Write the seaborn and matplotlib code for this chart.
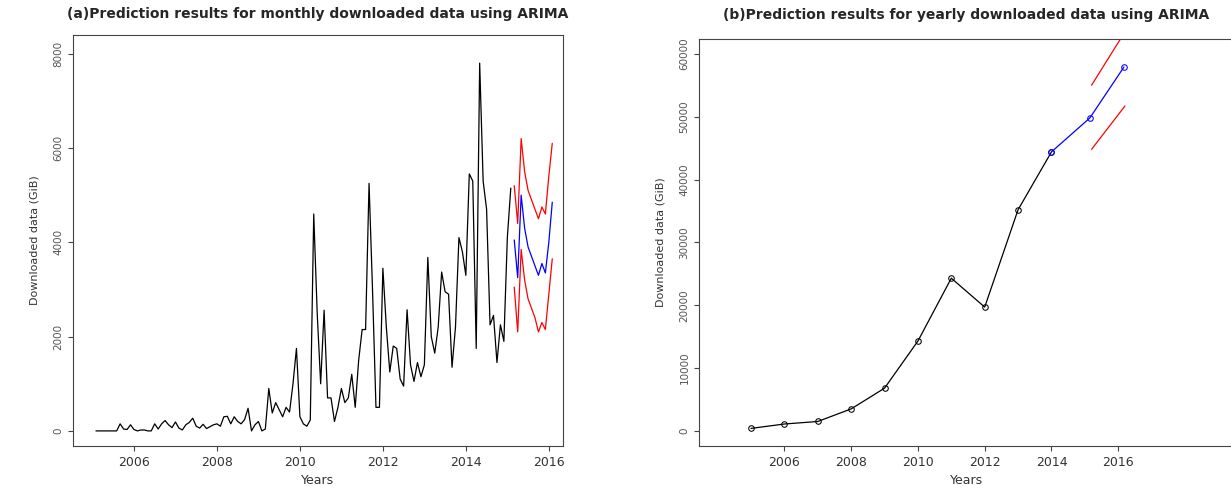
import numpy as np
import pandas as pd
import matplotlib
matplotlib.use("Agg")
import matplotlib.pyplot as plt
import seaborn as sns

# Datos mensuales (GiB)
mensual = [0, 0, 0, 0, 0, 0, 0, 150, 40, 30, 130, 30, 0, 20,
           20, 0, 0, 150, 40, 150, 220, 130, 70, 190, 60, 20,
           130, 180, 270, 100, 60, 140, 50, 90, 130, 150, 100, 300, 310,
           150, 300, 200, 150, 240, 480, 0, 130, 200, 0, 40, 900,
           380, 600, 450, 300, 500, 400, 1000, 1750, 300, 150, 100, 230, 4600, 2500, 1000,
           2560, 700, 700, 200, 500, 900, 600, 700, 1200, 500, 1500, 2150,
           2150, 5250, 3000, 500, 500, 3450, 2200, 1250, 1800, 1750, 1100, 950,
           2570, 1400, 1050, 1450, 1150, 1400, 3680, 2000, 1650, 2200, 3370, 2950,
           2900, 1350, 2200, 4100, 3800, 3300, 5450, 5300, 1750, 7800, 5300, 4700,
           2250, 2450, 1450, 2250, 1900, 4100, 5150]
pred_mensual = [4050, 3250, 5000, 4300, 3900, 3700, 3500, 3300, 3550, 3350, 4000, 4850]
sup_mensual = [5200, 4400, 6200, 5500, 5100, 4900, 4700, 4500, 4750, 4600, 5400, 6100]
inf_mensual = [3050, 2100, 3850, 3200, 2800, 2600, 2400, 2100, 2300, 2150, 2900, 3650]

# Datos anuales
anios = [2005, 2006, 2007, 2008, 2009, 2010, 2011, 2012, 2013, 2014]
anual = [400, 1100, 1500, 3500, 6800, 14300, 24300, 19700, 35200, 44400]
anios_pred = [2014, 2015.15, 2016.17]
pred_anual = [44400, 49800, 57900]
anios_int = [2015.2, 2016.2]
sup_anual = [55000, 63500]
inf_anual = [44800, 51700]

t_m = 2005.083 + np.arange(len(mensual)) / 12
t_p = t_m[-1] + (np.arange(len(pred_mensual)) + 1) / 12

sns.set_style("ticks")
plt.rcParams["font.family"] = ["DejaVu Sans"]

fig = plt.figure(figsize=(12.31, 4.86), dpi=100)
ax1 = fig.add_axes([0.0593, 0.0823, 0.398, 0.846])
ax2 = fig.add_axes([0.568, 0.0823, 0.434, 0.838])

gris = "#444444"

sns.lineplot(x=t_m, y=mensual, ax=ax1, color="black", linewidth=0.9)
sns.lineplot(x=t_p, y=pred_mensual, ax=ax1, color="blue", linewidth=0.9)
sns.lineplot(x=t_p, y=sup_mensual, ax=ax1, color="red", linewidth=0.9)
sns.lineplot(x=t_p, y=inf_mensual, ax=ax1, color="red", linewidth=0.9)
ax1.set_xlim(2004.53, 2016.34)
ax1.set_ylim(-320, 8400)
ax1.set_xticks([2006, 2008, 2010, 2012, 2014, 2016])
ax1.set_yticks([0, 2000, 4000, 6000, 8000])
ax1.set_title("(a)Prediction results for monthly downloaded data using ARIMA",
              fontsize=10, fontweight="bold", pad=12)

sns.lineplot(x=anios, y=anual, ax=ax2, color="black", linewidth=0.9,
             marker="o", markersize=4, markerfacecolor="none", markeredgecolor="black")
sns.lineplot(x=anios_pred, y=pred_anual, ax=ax2, color="blue", linewidth=0.9,
             marker="o", markersize=4, markerfacecolor="none", markeredgecolor="blue")
sns.lineplot(x=anios_int, y=sup_anual, ax=ax2, color="red", linewidth=0.9)
sns.lineplot(x=anios_int, y=inf_anual, ax=ax2, color="red", linewidth=0.9)
ax2.set_xlim(2003.45, 2019.45)
ax2.set_ylim(-2400, 62400)
ax2.set_xticks([2006, 2008, 2010, 2012, 2014, 2016])
ax2.set_yticks(np.arange(0, 60001, 10000))
ax2.set_title("(b)Prediction results for yearly downloaded data using ARIMA",
              fontsize=10, fontweight="bold", pad=14)

for ax in (ax1, ax2):
    for s in ax.spines.values():
        s.set_visible(True)
        s.set_color(gris)
    ax.tick_params(axis="x", labelsize=9, colors=gris, labelcolor="#333333")
    ax.tick_params(axis="y", labelsize=7.5, colors=gris, labelcolor="#555555",
                   labelrotation=90)
    for lab in ax.get_yticklabels():
        lab.set_va("center")
    ax.set_xlabel("Years", fontsize=9, color="#333333", labelpad=4)
    ax.set_ylabel("Downloaded data (GiB)", fontsize=8, color="#333333", labelpad=10)

fig.savefig("out.png", dpi=100)
